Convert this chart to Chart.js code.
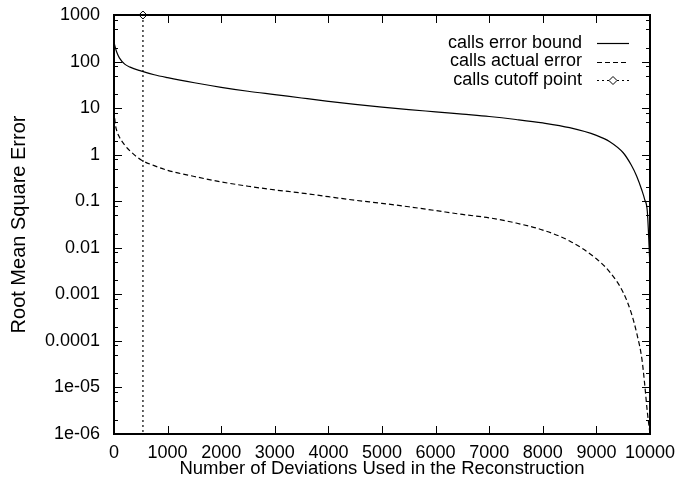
<!DOCTYPE html>
<html><head><meta charset="utf-8">
<script src="https://cdn.jsdelivr.net/npm/chart.js@4.4.1/dist/chart.umd.min.js"></script>
<style>html,body{margin:0;padding:0;background:#fff;overflow:hidden}#wrap{width:679px;height:487px}</style>
</head><body><div id="wrap"><canvas id="c" width="679" height="487"></canvas></div>
<script>
const deviations  = [0, 25, 50, 100, 200, 300, 500, 750, 1000, 1500, 2000, 2500, 3000, 3500, 4000, 4500, 5000, 5500, 6000, 6500, 7000, 7500, 8000, 8500, 9000, 9250, 9500, 9650, 9750, 9850, 9900, 9950, 10000];
const errorBound  = [260, 200, 160, 120, 88, 76, 63, 52, 45, 35, 28, 23, 19.5, 16.5, 14, 12, 10.5, 9.3, 8.3, 7.4, 6.6, 5.7, 4.8, 3.8, 2.6, 1.9, 1.1, 0.6, 0.35, 0.17, 0.11, 0.06, 0.004];
const actualError = [9, 4.5, 3.3, 2.4, 1.6, 1.2, 0.78, 0.58, 0.46, 0.34, 0.26, 0.21, 0.175, 0.15, 0.125, 0.105, 0.09, 0.076, 0.063, 0.052, 0.044, 0.034, 0.024, 0.014, 0.0058, 0.003, 0.0011, 0.0004, 0.00015, 0.00004, 0.000012, 0.000003, 0.000001];
const cutoffX = [540, 540];
const cutoffY = [1000, 0.000001];
const seriesLabels = ['calls error bound', 'calls actual error', 'calls cutoff point'];
const xTicks = [0, 1000, 2000, 3000, 4000, 5000, 6000, 7000, 8000, 9000, 10000];
const yTicks = [1000, 100, 10, 1, 0.1, 0.01, 0.001, 0.0001, 0.00001, 0.000001];
const yTickLabels = ['1000', '100', '10', '1', '0.1', '0.01', '0.001', '0.0001', '1e-05', '1e-06'];
const yMinorFactors = [2, 5, 8];
const xTitle = 'Number of Deviations Used in the Reconstruction';
const yTitle = 'Root Mean Square Error';

const FAMILY = "'Liberation Sans', Arial, Helvetica, sans-serif";
const FONT = {family: FAMILY, size: 18, lineHeight: 1.2};
const XTITLE_FONT = {family: FAMILY, size: 18.5, lineHeight: 1.2};
const YTITLE_FONT = {family: FAMILY, size: 20, lineHeight: 1.2};

const framePlugin = {
  id: 'frame',
  afterDraw(chart) {
    const ctx = chart.ctx, a = chart.chartArea, xs = chart.scales.x, ys = chart.scales.y;
    ctx.save();
    ctx.strokeStyle = '#000';
    ctx.lineWidth = 1;
    ctx.beginPath();
    xTicks.forEach(v => {
      const px = Math.round(xs.getPixelForValue(v)) + 0.5;
      ctx.moveTo(px, a.bottom); ctx.lineTo(px, a.bottom - 8);
      ctx.moveTo(px, a.top); ctx.lineTo(px, a.top + 8);
    });
    yTicks.forEach(v => {
      const py = Math.round(ys.getPixelForValue(v)) + 0.5;
      ctx.moveTo(a.left, py); ctx.lineTo(a.left + 8, py);
      ctx.moveTo(a.right, py); ctx.lineTo(a.right - 8, py);
      if (v < 1000) {
        yMinorFactors.forEach(f => {
          const pm = Math.round(ys.getPixelForValue(v * f)) + 0.5;
          ctx.moveTo(a.left, pm); ctx.lineTo(a.left + 4, pm);
          ctx.moveTo(a.right, pm); ctx.lineTo(a.right - 4, pm);
        });
      }
    });
    ctx.stroke();
    ctx.lineWidth = 2;
    ctx.strokeRect(a.left, a.top, a.right - a.left, a.bottom - a.top);

    ctx.font = `${FONT.size}px ${FONT.family}`;
    ctx.fillStyle = '#000';
    ctx.textAlign = 'right';
    ctx.textBaseline = 'middle';
    const rows = [43, 61.5, 80];
    chart.data.datasets.forEach((ds, i) => {
      const y = rows[i];
      ctx.fillText(ds.label, 582, y);
      ctx.save();
      ctx.lineWidth = ds.borderWidth;
      ctx.setLineDash(ds.borderDash || []);
      ctx.beginPath();
      ctx.moveTo(597, Math.round(y) + 0.5);
      ctx.lineTo(629, Math.round(y) + 0.5);
      ctx.stroke();
      ctx.restore();
      if (i === 2) {
        const cx = 613, cy = Math.round(y) + 0.5, r = 4;
        ctx.save();
        ctx.fillStyle = '#fff';
        ctx.lineWidth = 1;
        ctx.beginPath();
        ctx.moveTo(cx, cy - r); ctx.lineTo(cx + r, cy); ctx.lineTo(cx, cy + r); ctx.lineTo(cx - r, cy); ctx.closePath();
        ctx.fill(); ctx.stroke();
        ctx.restore();
      }
    });
    ctx.restore();
  }
};

function yLabel(v) {
  const i = yTicks.findIndex(t => Math.abs(Math.log10(t) - Math.log10(v)) < 1e-6);
  return i >= 0 ? yTickLabels[i] : '';
}

new Chart(document.getElementById('c').getContext('2d'), {
  type: 'line',
  data: {
    datasets: [
      {label: seriesLabels[0], data: deviations.map((x, i) => ({x, y: errorBound[i]})), borderColor: '#000', borderWidth: 1.2, pointRadius: 0, fill: false, cubicInterpolationMode: 'monotone'},
      {label: seriesLabels[1], data: deviations.map((x, i) => ({x, y: actualError[i]})), borderColor: '#000', borderWidth: 1.2, borderDash: [5, 3], pointRadius: 0, fill: false, cubicInterpolationMode: 'monotone'},
      {label: seriesLabels[2], data: cutoffX.map((x, i) => ({x, y: cutoffY[i]})), borderColor: '#000', borderWidth: 1.2, borderDash: [2, 3], pointRadius: [4, 0], pointStyle: 'rectRot', pointBackgroundColor: '#fff', pointBorderColor: '#000', pointBorderWidth: 1, fill: false, clip: false}
    ]
  },
  options: {
    responsive: false, animation: false, devicePixelRatio: 1,
    layout: {padding: {top: 15, right: 29, left: 0, bottom: 0}},
    plugins: {legend: {display: false}, tooltip: {enabled: false}},
    scales: {
      x: {
        type: 'linear', min: 0, max: 10000,
        afterBuildTicks: s => { s.ticks = xTicks.map(v => ({value: v})); },
        afterFit: s => { s.height = 53; s.paddingLeft = 0; s.paddingRight = 0; },
        grid: {display: false, drawTicks: false},
        border: {display: false},
        ticks: {padding: 8, maxRotation: 0, autoSkip: false, color: '#000', font: FONT, callback: v => String(v)},
        title: {display: true, text: xTitle, color: '#000', font: XTITLE_FONT, padding: {top: 0, bottom: 7}}
      },
      y: {
        type: 'logarithmic', min: 0.000001, max: 1000,
        afterBuildTicks: s => { s.ticks = yTicks.map(v => ({value: v})); },
        afterFit: s => { s.width = 114; s.paddingTop = 0; s.paddingBottom = 0; },
        grid: {display: false, drawTicks: false},
        border: {display: false},
        ticks: {padding: 14, autoSkip: false, color: '#000', font: FONT, callback: v => yLabel(v)},
        title: {display: true, text: yTitle, color: '#000', font: YTITLE_FONT, padding: {top: 7, bottom: 0}}
      }
    }
  },
  plugins: [framePlugin]
});
</script></body></html>
